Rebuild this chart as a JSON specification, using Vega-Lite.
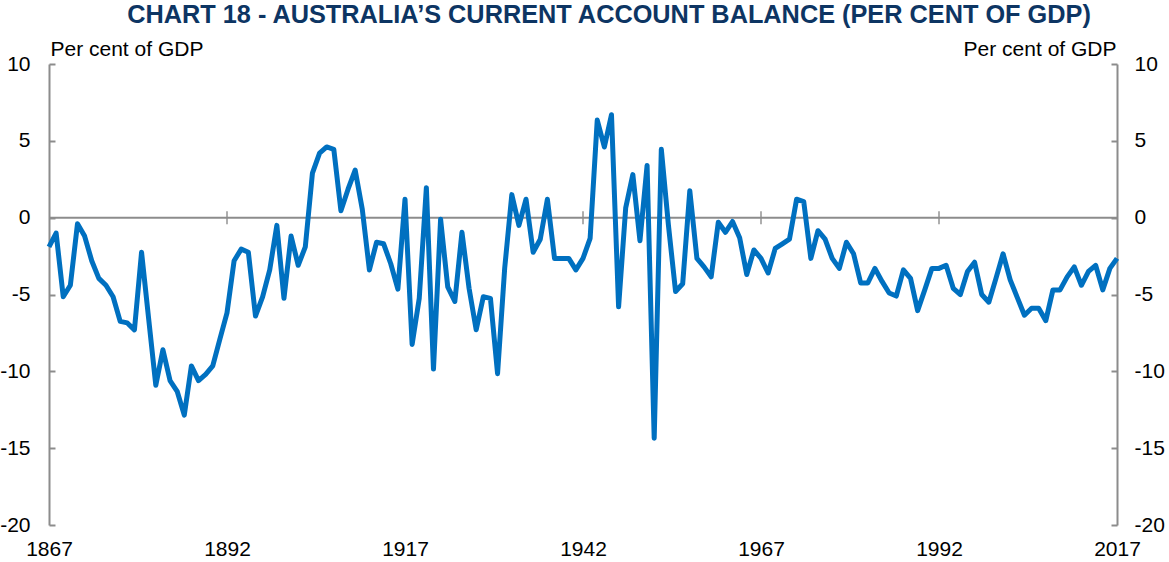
{
  "$schema": "https://vega.github.io/schema/vega-lite/v6.json",
  "width": 1068,
  "height": 461,
  "autosize": {"type": "none"},
  "padding": {"left": 49, "top": 64, "right": 52, "bottom": 37},
  "background": "white",
  "title": {
    "text": "CHART 18 - AUSTRALIA’S CURRENT ACCOUNT BALANCE (PER CENT OF GDP)",
    "font": "Liberation Sans",
    "fontSize": 25.3,
    "fontWeight": "bold",
    "color": "#0D3563",
    "anchor": "middle",
    "frame": "group",
    "baseline": "alphabetic",
    "offset": 16,
    "dy": 26,
    "dx": 26
  },
  "config": {
    "view": {"stroke": null},
    "font": "Liberation Sans",
    "axis": {
      "labelFont": "Liberation Sans",
      "labelFontSize": 21,
      "labelColor": "#000000",
      "titleFont": "Liberation Sans",
      "titleFontSize": 21,
      "titleFontWeight": "normal",
      "titleColor": "#000000",
      "domainColor": "#8C8C8C",
      "domainWidth": 2,
      "tickColor": "#8C8C8C",
      "tickWidth": 2,
      "grid": false
    }
  },
  "datasets": {
    "cab": [
      {"year": 1867, "value": -1.9}, {"year": 1868, "value": -1.0}, {"year": 1869, "value": -5.15}, {"year": 1870, "value": -4.4},
      {"year": 1871, "value": -0.4}, {"year": 1872, "value": -1.2}, {"year": 1873, "value": -2.8}, {"year": 1874, "value": -3.95},
      {"year": 1875, "value": -4.4}, {"year": 1876, "value": -5.15}, {"year": 1877, "value": -6.75}, {"year": 1878, "value": -6.85},
      {"year": 1879, "value": -7.3}, {"year": 1880, "value": -2.25}, {"year": 1881, "value": -6.6}, {"year": 1882, "value": -10.9},
      {"year": 1883, "value": -8.6}, {"year": 1884, "value": -10.6}, {"year": 1885, "value": -11.3}, {"year": 1886, "value": -12.85},
      {"year": 1887, "value": -9.65}, {"year": 1888, "value": -10.6}, {"year": 1889, "value": -10.2}, {"year": 1890, "value": -9.65},
      {"year": 1891, "value": -7.9}, {"year": 1892, "value": -6.2}, {"year": 1893, "value": -2.8}, {"year": 1894, "value": -2.05},
      {"year": 1895, "value": -2.25}, {"year": 1896, "value": -6.4}, {"year": 1897, "value": -5.15}, {"year": 1898, "value": -3.4},
      {"year": 1899, "value": -0.5}, {"year": 1900, "value": -5.25}, {"year": 1901, "value": -1.2}, {"year": 1902, "value": -3.1},
      {"year": 1903, "value": -1.9}, {"year": 1904, "value": 2.9}, {"year": 1905, "value": 4.2}, {"year": 1906, "value": 4.6},
      {"year": 1907, "value": 4.45}, {"year": 1908, "value": 0.45}, {"year": 1909, "value": 1.85}, {"year": 1910, "value": 3.1},
      {"year": 1911, "value": 0.55}, {"year": 1912, "value": -3.4}, {"year": 1913, "value": -1.6}, {"year": 1914, "value": -1.7},
      {"year": 1915, "value": -3.0}, {"year": 1916, "value": -4.65}, {"year": 1917, "value": 1.2}, {"year": 1918, "value": -8.25},
      {"year": 1919, "value": -5.25}, {"year": 1920, "value": 1.95}, {"year": 1921, "value": -9.85}, {"year": 1922, "value": -0.1},
      {"year": 1923, "value": -4.5}, {"year": 1924, "value": -5.45}, {"year": 1925, "value": -0.95}, {"year": 1926, "value": -4.6},
      {"year": 1927, "value": -7.3}, {"year": 1928, "value": -5.15}, {"year": 1929, "value": -5.25}, {"year": 1930, "value": -10.15},
      {"year": 1931, "value": -3.3}, {"year": 1932, "value": 1.5}, {"year": 1933, "value": -0.5}, {"year": 1934, "value": 1.2},
      {"year": 1935, "value": -2.25}, {"year": 1936, "value": -1.4}, {"year": 1937, "value": 1.2}, {"year": 1938, "value": -2.65},
      {"year": 1939, "value": -2.65}, {"year": 1940, "value": -2.65}, {"year": 1941, "value": -3.4}, {"year": 1942, "value": -2.65},
      {"year": 1943, "value": -1.35}, {"year": 1944, "value": 6.35}, {"year": 1945, "value": 4.6}, {"year": 1946, "value": 6.7},
      {"year": 1947, "value": -5.8}, {"year": 1948, "value": 0.65}, {"year": 1949, "value": 2.8}, {"year": 1950, "value": -1.5},
      {"year": 1951, "value": 3.4}, {"year": 1952, "value": -14.35}, {"year": 1953, "value": 4.45}, {"year": 1954, "value": -0.5},
      {"year": 1955, "value": -4.8}, {"year": 1956, "value": -4.3}, {"year": 1957, "value": 1.75}, {"year": 1958, "value": -2.65},
      {"year": 1959, "value": -3.2}, {"year": 1960, "value": -3.85}, {"year": 1961, "value": -0.3}, {"year": 1962, "value": -0.95},
      {"year": 1963, "value": -0.25}, {"year": 1964, "value": -1.3}, {"year": 1965, "value": -3.7}, {"year": 1966, "value": -2.1},
      {"year": 1967, "value": -2.65}, {"year": 1968, "value": -3.6}, {"year": 1969, "value": -2.0}, {"year": 1970, "value": -1.7},
      {"year": 1971, "value": -1.4}, {"year": 1972, "value": 1.2}, {"year": 1973, "value": 1.05}, {"year": 1974, "value": -2.65},
      {"year": 1975, "value": -0.85}, {"year": 1976, "value": -1.4}, {"year": 1977, "value": -2.65}, {"year": 1978, "value": -3.3},
      {"year": 1979, "value": -1.6}, {"year": 1980, "value": -2.35}, {"year": 1981, "value": -4.25}, {"year": 1982, "value": -4.25},
      {"year": 1983, "value": -3.3}, {"year": 1984, "value": -4.15}, {"year": 1985, "value": -4.9}, {"year": 1986, "value": -5.1},
      {"year": 1987, "value": -3.4}, {"year": 1988, "value": -3.95}, {"year": 1989, "value": -6.05}, {"year": 1990, "value": -4.7},
      {"year": 1991, "value": -3.3}, {"year": 1992, "value": -3.3}, {"year": 1993, "value": -3.1}, {"year": 1994, "value": -4.6},
      {"year": 1995, "value": -5.0}, {"year": 1996, "value": -3.5}, {"year": 1997, "value": -2.9}, {"year": 1998, "value": -5.0},
      {"year": 1999, "value": -5.5}, {"year": 2000, "value": -3.95}, {"year": 2001, "value": -2.35}, {"year": 2002, "value": -4.05},
      {"year": 2003, "value": -5.2}, {"year": 2004, "value": -6.35}, {"year": 2005, "value": -5.9}, {"year": 2006, "value": -5.9},
      {"year": 2007, "value": -6.7}, {"year": 2008, "value": -4.7}, {"year": 2009, "value": -4.7}, {"year": 2010, "value": -3.85},
      {"year": 2011, "value": -3.2}, {"year": 2012, "value": -4.4}, {"year": 2013, "value": -3.5}, {"year": 2014, "value": -3.1},
      {"year": 2015, "value": -4.7}, {"year": 2016, "value": -3.3}, {"year": 2017, "value": -2.65}
    ],
    "xticks": [
      {"year": 1892}, {"year": 1917}, {"year": 1942}, {"year": 1967}, {"year": 1992}
    ],
    "zero": [
      {"level": 0}
    ]
  },
  "layer": [
    {
      "data": {"name": "zero"},
      "mark": {"type": "rule", "color": "#8C8C8C", "strokeWidth": 2},
      "encoding": {
        "y": {
          "field": "level",
          "type": "quantitative",
          "scale": {"domain": [-20, 10], "nice": false, "zero": false},
          "axis": {
            "orient": "right",
            "values": [-20, -15, -10, -5, 0, 5, 10],
            "labelExpr": "'' + datum.value",
            "tickSize": -6,
            "labelPadding": 23,
            "labelAlign": "left",
            "title": "Per cent of GDP",
            "titleAngle": 0,
            "titleAlign": "right",
            "titleBaseline": "alphabetic",
            "titleX": -1,
            "titleY": -9
          }
        }
      }
    },
    {
      "data": {"name": "xticks"},
      "mark": {"type": "tick", "orient": "vertical", "color": "#8C8C8C", "size": 13, "thickness": 2},
      "encoding": {
        "x": {"field": "year", "type": "quantitative"},
        "y": {"datum": 0, "type": "quantitative", "axis": null}
      }
    },
    {
      "data": {"name": "cab"},
      "mark": {"type": "line", "color": "#0070C0", "strokeWidth": 5, "strokeJoin": "round"},
      "encoding": {
        "x": {
          "field": "year",
          "type": "quantitative",
          "scale": {"domain": [1867, 2017], "nice": false, "zero": false},
          "axis": {
            "orient": "bottom",
            "values": [1867, 1892, 1917, 1942, 1967, 1992, 2017],
            "format": "d",
            "ticks": false,
            "domain": false,
            "labelPadding": 13,
            "labelFlush": false,
            "title": null
          }
        },
        "y": {
          "field": "value",
          "type": "quantitative",
          "axis": {
            "orient": "left",
            "values": [-20, -15, -10, -5, 0, 5, 10],
            "labelExpr": "'' + datum.value",
            "tickSize": -6,
            "labelPadding": 25,
            "labelAlign": "right",
            "title": "Per cent of GDP",
            "titleAngle": 0,
            "titleAlign": "left",
            "titleBaseline": "alphabetic",
            "titleX": 1,
            "titleY": -9
          }
        }
      }
    }
  ],
  "resolve": {"axis": {"y": "independent"}}
}
